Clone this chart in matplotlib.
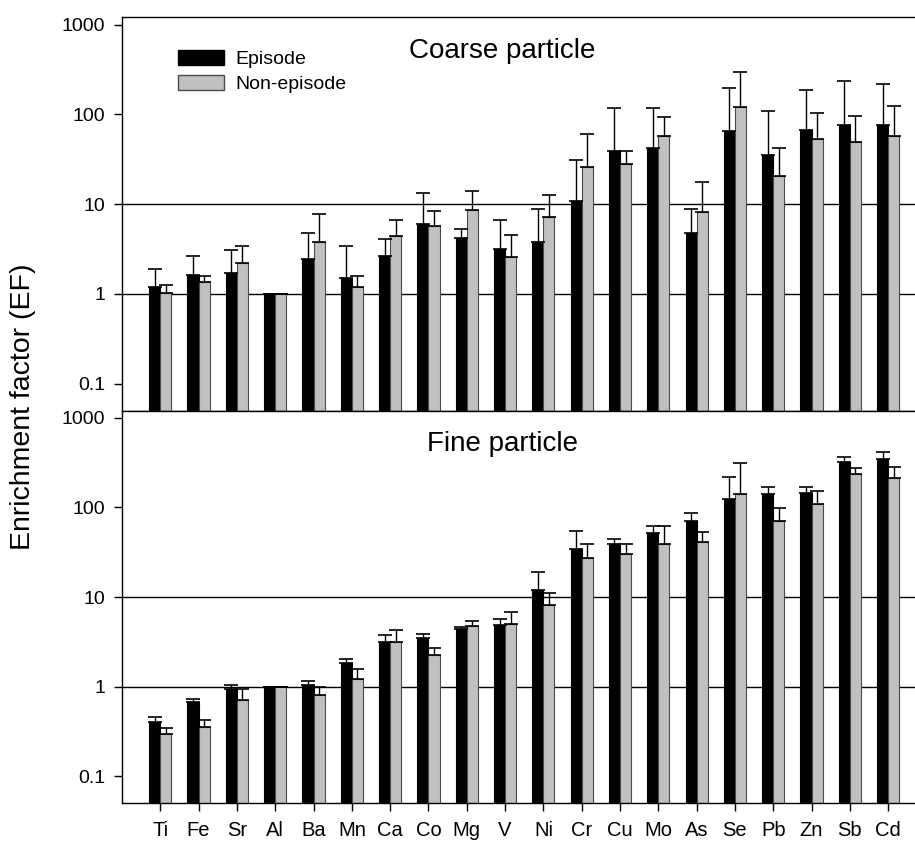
import numpy as np
import matplotlib
matplotlib.use("Agg")
import matplotlib.pyplot as plt
from matplotlib.patches import Patch

plt.rcParams['font.family'] = ['Liberation Sans', 'DejaVu Sans']

elements = ['Ti', 'Fe', 'Sr', 'Al', 'Ba', 'Mn', 'Ca', 'Co', 'Mg', 'V',
            'Ni', 'Cr', 'Cu', 'Mo', 'As', 'Se', 'Pb', 'Zn', 'Sb', 'Cd']

# coarse particle EF (mean) and top of error bar
coarse_ep = [1.18, 1.63, 1.69, 1.0, 2.44, 1.50, 2.63, 5.94, 4.18, 3.15,
             3.74, 10.8, 39.0, 42.4, 4.71, 65.2, 35.5, 67.4, 76.0, 76.0]
coarse_ep_hi = [1.90, 2.65, 3.05, 1.0, 4.75, 3.40, 4.10, 13.3, 5.26, 6.63,
                8.87, 31.2, 117.5, 116.7, 8.87, 198, 109, 188, 233, 218]
coarse_non = [1.03, 1.35, 2.22, 1.0, 3.74, 1.20, 4.43, 5.64, 8.51, 2.56,
              7.11, 26.1, 27.9, 57.3, 8.15, 121.6, 20.4, 52.6, 48.7, 56.9]
coarse_non_hi = [1.24, 1.60, 3.43, 1.0, 7.8, 1.60, 6.63, 8.36, 13.96, 4.51,
                 12.6, 60.8, 39.3, 93.3, 17.7, 298, 42.4, 103, 95.7, 124.7]

# fine particle EF (mean) and top of error bar
fine_ep = [0.407, 0.675, 0.942, 1.0, 1.04, 1.84, 3.18, 3.49, 4.43, 4.87,
           11.97, 34.0, 38.7, 52.1, 70.3, 124.7, 142, 144, 318, 345]
fine_ep_hi = [0.463, 0.735, 1.05, 1.0, 1.16, 2.04, 3.77, 3.90, 4.67, 5.69,
              19.0, 54.4, 44.7, 61.9, 85.7, 216, 168, 168, 366, 414]
fine_non = [0.297, 0.356, 0.705, 1.0, 0.814, 1.21, 3.13, 2.24, 4.79, 4.96,
            8.15, 27.4, 30.2, 38.7, 41.4, 141.9, 69.8, 108, 237, 214]
fine_non_hi = [0.349, 0.429, 0.95, 1.0, 0.98, 1.59, 4.32, 2.68, 5.40, 6.75,
               11.0, 39.3, 39.0, 61.9, 53.1, 312, 98.2, 152, 276, 281]

ref_lines = [1, 10]
yticks = [0.1, 1, 10, 100, 1000]
ytick_labels = ['0.1', '1', '10', '100', '1000']

fig = plt.figure(figsize=(9.15, 8.41), dpi=100)
ax1 = fig.add_axes([0.1333, 0.5117, 0.8667, 0.4675])
ax2 = fig.add_axes([0.1333, 0.0448, 0.8667, 0.4669])

x = np.arange(len(elements))
w = 0.29


def panel(ax, ep, ep_hi, non, non_hi, title, show_x):
    ep = np.array(ep)
    non = np.array(non)
    ax.set_yscale('log')
    ax.bar(x - w / 2, ep, w, color='black', edgecolor='black', linewidth=0.8, zorder=2)
    ax.bar(x + w / 2, non, w, color='#c0c0c0', edgecolor='#4a4a4a', linewidth=0.8, zorder=2)
    ax.errorbar(x - w / 2, ep, yerr=[np.zeros_like(ep), np.array(ep_hi) - ep],
                fmt='none', ecolor='black', elinewidth=1.0, capsize=4.8, capthick=1.2, zorder=3)
    ax.errorbar(x + w / 2, non, yerr=[np.zeros_like(non), np.array(non_hi) - non],
                fmt='none', ecolor='black', elinewidth=1.0, capsize=4.8, capthick=1.2, zorder=3)
    for v in ref_lines:
        ax.axhline(v, color='black', linewidth=1.0, zorder=1)
    ax.set_ylim(0.05, 1200)
    ax.set_xlim(-1, 19.7)
    ax.set_yticks(yticks)
    ax.set_yticklabels(ytick_labels)
    ax.minorticks_off()
    ax.tick_params(axis='y', direction='out', length=6, width=1, labelsize=14, pad=6)
    ax.spines['right'].set_visible(False)
    for s in ['left', 'bottom', 'top']:
        ax.spines[s].set_linewidth(1.0)
    if show_x:
        ax.set_xticks(x)
        ax.set_xticklabels(elements)
        ax.tick_params(axis='x', direction='out', length=6, width=1, labelsize=14.5, pad=7)
    else:
        ax.set_xticks([])
    ax.text(0.48, 0.915, title, transform=ax.transAxes, ha='center', va='center', fontsize=20)


panel(ax1, coarse_ep, coarse_ep_hi, coarse_non, coarse_non_hi, 'Coarse particle', False)
panel(ax2, fine_ep, fine_ep_hi, fine_non, fine_non_hi, 'Fine particle', True)

handles = [Patch(facecolor='black', edgecolor='black', label='Episode'),
           Patch(facecolor='#c0c0c0', edgecolor='#4a4a4a', label='Non-episode')]
ax1.legend(handles=handles, loc='upper left', bbox_to_anchor=(0.0706, 0.918), frameon=False,
           fontsize=14, handlelength=2.37, handleheight=0.82, labelspacing=0.36,
           handletextpad=0.6, borderpad=0, borderaxespad=0)

fig.text(0.025, 0.516, 'Enrichment factor (EF)', rotation=90, ha='center', va='center', fontsize=20.5)

fig.savefig('out.png', dpi=100)
